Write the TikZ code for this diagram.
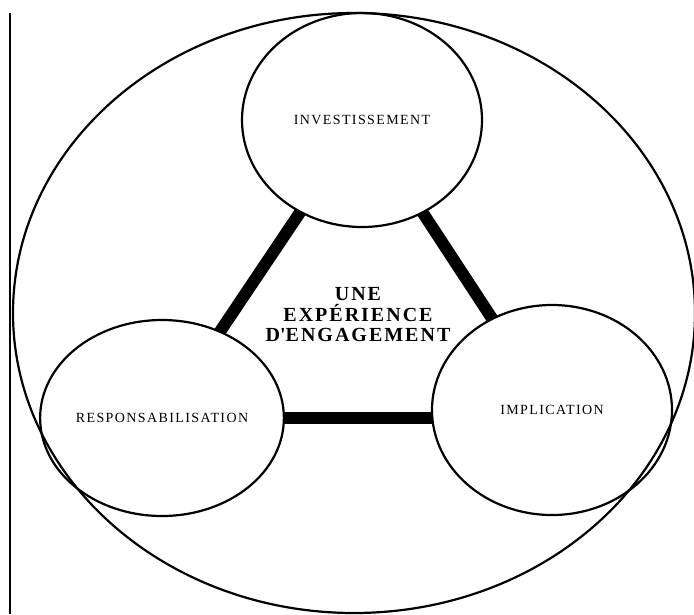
\documentclass[tikz,border=0pt]{standalone}
\usepackage{fontspec}
\setmainfont{Liberation Serif}
\usetikzlibrary{shapes.geometric,backgrounds}

\begin{document}
\begin{tikzpicture}[
    x=1pt,y=-1pt,
    bubble/.style={draw,ellipse,fill=white,line width=2.2pt,inner sep=0pt,
                   font=\fontsize{14}{16}\selectfont\addfontfeature{LetterSpace=10}},
    link/.style={line width=12pt},
    frame/.style={draw,ellipse,line width=2.2pt,inner sep=0pt}
  ]
    \useasboundingbox (0,0) rectangle (694,614);
    \node[bubble,minimum width=240pt,minimum height=214pt] (invest) at (362,120) {INVESTISSEMENT};
    \node[bubble,minimum width=242pt,minimum height=196pt] (respons) at (162,418) {RESPONSABILISATION};
    \node[bubble,minimum width=240pt,minimum height=210pt] (implic) at (552,410) {IMPLICATION};
    \node[align=center,font=\fontsize{20}{20.5}\selectfont\bfseries\addfontfeature{LetterSpace=10}]
      (centre) at (358,315) {UNE\\EXPÉRIENCE\\D\textquotesingle ENGAGEMENT};
    \begin{scope}[on background layer]
      \draw[link] (invest.center)--(respons.center);
      \draw[link] (invest.center)--(implic.center);
      \draw[link] (respons.center)--(respons.center -| implic.center);
    \end{scope}
    \node[frame,minimum width=682pt,minimum height=600pt] (outer) at (354,313) {};
    \draw[line width=2pt] (9.5,13)--(9.5,614);
  \end{tikzpicture}
\end{document}
